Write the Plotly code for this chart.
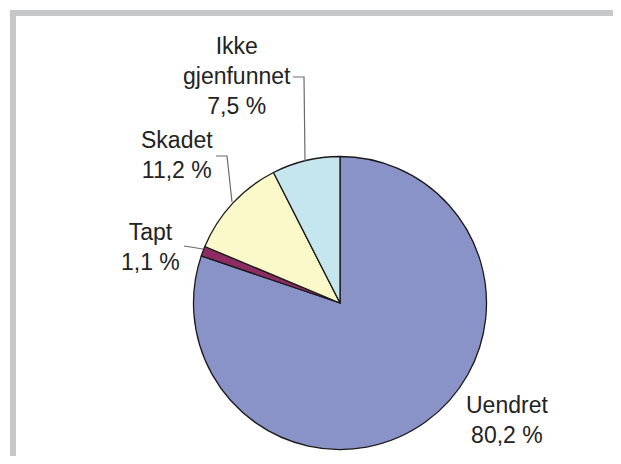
import plotly.graph_objects as go

# The page body has an 8px margin, so the figure is drawn 8px in from the window edge.
OFF = 8
W, H = 621 - 2 * OFF, 464 - 2 * OFF

categories = ["Uendret", "Tapt", "Skadet", "Ikke<br>gjenfunnet"]
values = [80.2, 1.1, 11.2, 7.5]
value_labels = ["80,2 %", "1,1 %", "11,2 %", "7,5 %"]
colors = ["#8a93c8", "#8c2c63", "#fbf9c9", "#c5e6ef"]

def px(x):
    return (x - OFF) / W

def py(y):
    return 1 - (y - OFF) / H

# pie geometry (window pixels)
cx, cy, r = 340, 303, 146.5

fig = go.Figure()
fig.add_trace(go.Pie(
    labels=categories,
    values=values,
    sort=False,
    direction="clockwise",
    rotation=0,
    textinfo="none",
    hoverinfo="label+percent",
    marker=dict(colors=colors, line=dict(color="#1a1a1a", width=1.3)),
    domain=dict(x=[px(cx - r), px(cx + r)], y=[py(cy + r), py(cy - r)]),
    showlegend=False,
))

# label positions (window pixels, centre of text block)
label_pos = [(507, 420), (150, 247), (177, 155), (237, 76)]
font = dict(family="Liberation Sans, Arial, sans-serif", size=23, color="#222222")
annotations = []
for cat, vl, (lx, ly) in zip(categories, value_labels, label_pos):
    annotations.append(dict(
        text=f"{cat}<br>{vl}", x=px(lx), y=py(ly), xref="paper", yref="paper",
        xanchor="center", yanchor="middle", showarrow=False, align="center", font=font,
    ))

# leader lines (window pixels)
leaders = [
    [(184, 246), (203, 249)],
    [(216, 156), (227, 156), (232, 202)],
    [(293, 77), (304, 77), (305, 161)],
]
shapes = []
for pts in leaders:
    path = "M " + " L ".join(f"{px(x)},{py(y)}" for x, y in pts)
    shapes.append(dict(type="path", path=path, xref="paper", yref="paper",
                       line=dict(color="#6a6a6a", width=1.2)))

# frame (gray strips on top and left)
frame_col = "#c6c7c9"
shapes.append(dict(type="rect", xref="paper", yref="paper", x0=px(10), x1=1, y0=py(16), y1=py(10),
                   fillcolor=frame_col, line=dict(width=0), layer="below"))
shapes.append(dict(type="rect", xref="paper", yref="paper", x0=px(10), x1=px(16), y0=0, y1=py(10),
                   fillcolor=frame_col, line=dict(width=0), layer="below"))

fig.update_layout(
    width=W, height=H,
    margin=dict(l=0, r=0, t=0, b=0),
    paper_bgcolor="white", plot_bgcolor="white",
    annotations=annotations, shapes=shapes,
)

fig.write_html("out.html", config={"displayModeBar": False})
